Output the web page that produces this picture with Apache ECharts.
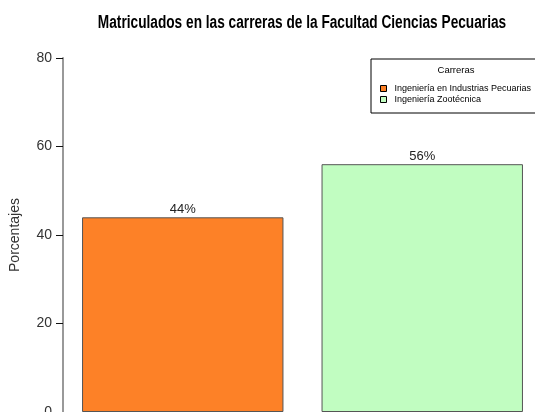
<!DOCTYPE html>
<html>
<head>
<meta charset="utf-8">
<script src="https://cdn.jsdelivr.net/npm/echarts@6/dist/echarts.min.js"></script>
<style>
  html, body { margin: 0; padding: 0; background: #fff; }
  #chart { width: 535px; height: 412px; }
</style>
</head>
<body>
<div id="chart"></div>
<script>
// datos del gráfico
var carreras = ['Ingeniería en Industrias Pecuarias', 'Ingeniería Zootécnica'];
var porcentajes = [44, 56];
var colores = ['#fd8127', '#c1fdc1'];
var yTicks = { min: 0, max: 80, interval: 20 };

var FONT = '"Liberation Sans", Arial, sans-serif';

var chart = echarts.init(document.getElementById('chart'), null, { renderer: 'canvas' });

var option = {
    backgroundColor: '#fff',
    animation: false,
    legend: {
        orient: 'vertical',
        left: 371,
        top: 59,
        padding: [25, 12, 9, 9],
        itemWidth: 6,
        itemHeight: 6,
        itemGap: 2,
        borderColor: '#000',
        borderWidth: 1,
        icon: 'rect',
        itemStyle: { borderColor: '#000', borderWidth: 1 },
        textStyle: { fontFamily: FONT, fontSize: 9, color: '#000', padding: [0, 0, 0, 3] },
        data: carreras
    },
    graphic: [
        {
            // título (texto algo estrecho como en el original)
            type: 'text',
            x: 302,
            y: 23,
            scaleX: 0.76,
            style: {
                text: 'Matriculados en las carreras de la Facultad Ciencias Pecuarias',
                x: 0, y: 0,
                align: 'center',
                verticalAlign: 'middle',
                fontFamily: FONT, fontWeight: 'bold', fontSize: 18, fill: '#000'
            }
        },
        {
            type: 'text',
            x: 456,
            y: 70,
            style: {
                text: 'Carreras', x: 0, y: 0,
                align: 'center', verticalAlign: 'middle',
                fontFamily: FONT, fontSize: 9.5, fill: '#000'
            }
        }
    ],
    grid: {
        left: 63,
        right: -7,
        top: 58,
        bottom: 0,
        outerBoundsMode: 'none'
    },
    xAxis: {
        type: 'category',
        data: carreras,
        show: false
    },
    yAxis: {
        type: 'value',
        min: yTicks.min,
        max: yTicks.max,
        interval: yTicks.interval,
        name: 'Porcentajes',
        nameLocation: 'middle',
        nameGap: 41,
        nameTextStyle: { fontFamily: FONT, fontSize: 14, color: '#333' },
        axisLine: { show: true, lineStyle: { color: '#999', width: 2 } },
        axisTick: { show: true, length: 7, lineStyle: { color: '#111' } },
        axisLabel: { fontFamily: FONT, fontSize: 14, color: '#333', margin: 11 },
        splitLine: { show: false }
    },
    series: carreras.map(function (c, i) {
        var data = porcentajes.map(function (v, j) { return j === i ? v : '-'; });
        return {
            name: c,
            type: 'bar',
            stack: 'total',
            barWidth: '84.1%',
            data: data,
            itemStyle: { color: colores[i], borderColor: '#555', borderWidth: 1 },
            label: {
                show: true,
                position: 'top',
                distance: 1,
                formatter: '{c}%',
                fontFamily: FONT,
                fontSize: 13,
                color: '#222'
            }
        };
    })
};

chart.setOption(option);
</script>
</body>
</html>
